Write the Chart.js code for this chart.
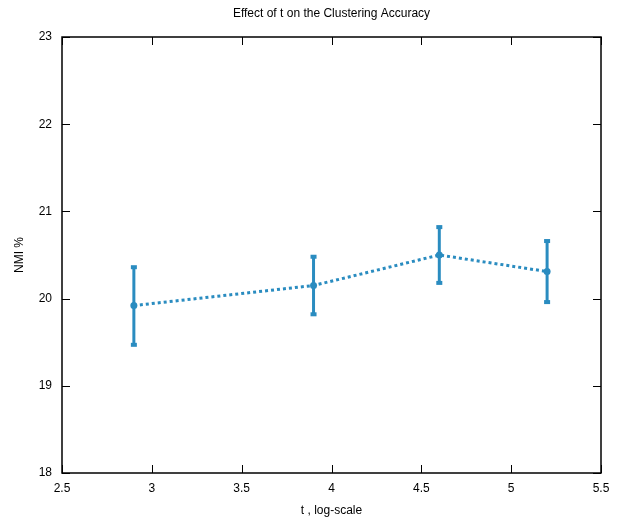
<!DOCTYPE html>
<html>
<head>
<meta charset="utf-8">
<script src="https://cdn.jsdelivr.net/npm/chart.js@4"></script>
<style>
html,body{margin:0;padding:0;background:#fff;}
#wrap{width:621px;height:522px;position:relative;}
</style>
</head>
<body>
<div id="wrap"><canvas id="c" width="621" height="522"></canvas></div>
<script>
const tValues = [2.9, 3.9, 4.6, 5.2];
const nmiMean = [19.92, 20.15, 20.50, 20.31];
const nmiLow  = [19.47, 19.82, 20.18, 19.96];
const nmiHigh = [20.36, 20.48, 20.82, 20.66];
const xTicks = [2.5, 3, 3.5, 4, 4.5, 5, 5.5];
const yTicks = [18, 19, 20, 21, 22, 23];

const COLOR = '#2a8cc0';
const FONT = "'Liberation Sans Narrow','Liberation Sans',Arial,sans-serif";

const errorBars = {
  id: 'errorBars',
  afterDatasetsDraw(chart) {
    const xs = chart.scales.x, ys = chart.scales.y, ctx = chart.ctx;
    ctx.save();
    ctx.strokeStyle = COLOR; ctx.fillStyle = COLOR; ctx.lineWidth = 3;
    for (let i = 0; i < tValues.length; i++) {
      const x = xs.getPixelForValue(tValues[i]);
      const y1 = ys.getPixelForValue(nmiLow[i]);
      const y2 = ys.getPixelForValue(nmiHigh[i]);
      ctx.beginPath(); ctx.moveTo(x, y1); ctx.lineTo(x, y2); ctx.stroke();
      ctx.fillRect(x - 3, y1 - 2, 6, 4);
      ctx.fillRect(x - 3, y2 - 2, 6, 4);
    }
    ctx.restore();
  }
};

const frame = {
  id: 'frame',
  afterDraw(chart) {
    const a = chart.chartArea, ctx = chart.ctx;
    const xs = chart.scales.x, ys = chart.scales.y;
    ctx.save();
    ctx.strokeStyle = '#000'; ctx.lineWidth = 1.5;
    ctx.strokeRect(a.left, a.top, a.right - a.left, a.bottom - a.top);
    ctx.lineWidth = 1;
    const L = 8;
    ctx.beginPath();
    xTicks.forEach(v => {
      const x = Math.round(xs.getPixelForValue(v)) + 0.5;
      ctx.moveTo(x, a.bottom); ctx.lineTo(x, a.bottom - L);
      ctx.moveTo(x, a.top); ctx.lineTo(x, a.top + L);
    });
    yTicks.forEach(v => {
      const y = Math.round(ys.getPixelForValue(v)) + 0.5;
      ctx.moveTo(a.left, y); ctx.lineTo(a.left + L, y);
      ctx.moveTo(a.right, y); ctx.lineTo(a.right - L, y);
    });
    ctx.stroke();
    ctx.restore();
  }
};

new Chart(document.getElementById('c'), {
  type: 'scatter',
  data: {
    datasets: [{
      data: tValues.map((t, i) => ({x: t, y: nmiMean[i]})),
      showLine: true,
      borderColor: COLOR,
      backgroundColor: COLOR,
      borderWidth: 3,
      borderDash: [3, 3],
      pointRadius: 3.5,
      pointBorderWidth: 0,
      pointBackgroundColor: COLOR
    }]
  },
  options: {
    responsive: false,
    animation: false,
    layout: {padding: {left: 0, right: 20, top: 0, bottom: 0}},
    plugins: {
      legend: {display: false},
      tooltip: {enabled: false},
      title: {
        display: true,
        fullSize: false,
        text: 'Effect of t on the Clustering Accuracy',
        color: '#000',
        font: {family: FONT, size: 12, weight: 'normal'},
        padding: {top: 6, bottom: 16.6}
      }
    },
    scales: {
      x: {
        type: 'linear', min: 2.5, max: 5.5,
        afterBuildTicks(s) { s.ticks = xTicks.map(v => ({value: v})); },
        afterFit(s) { s.height = 49; },
        grid: {display: false, drawTicks: false},
        border: {display: false},
        ticks: {color: '#000', font: {family: FONT, size: 12}, padding: 8,
          callback: v => String(v)},
        title: {display: true, text: 't , log-scale', color: '#000',
          font: {family: FONT, size: 12}, padding: {top: 6, bottom: 4}}
      },
      y: {
        type: 'linear', min: 18, max: 23,
        afterBuildTicks(s) { s.ticks = yTicks.map(v => ({value: v})); },
        afterFit(s) { s.width = 62; },
        grid: {display: false, drawTicks: false},
        border: {display: false},
        ticks: {color: '#000', font: {family: FONT, size: 12}, padding: 10,
          callback: v => String(v)},
        title: {display: true, text: 'NMI %', color: '#000',
          font: {family: FONT, size: 12}, padding: {top: 12, bottom: 4}}
      }
    }
  },
  plugins: [errorBars, frame]
});
</script>
</body>
</html>
